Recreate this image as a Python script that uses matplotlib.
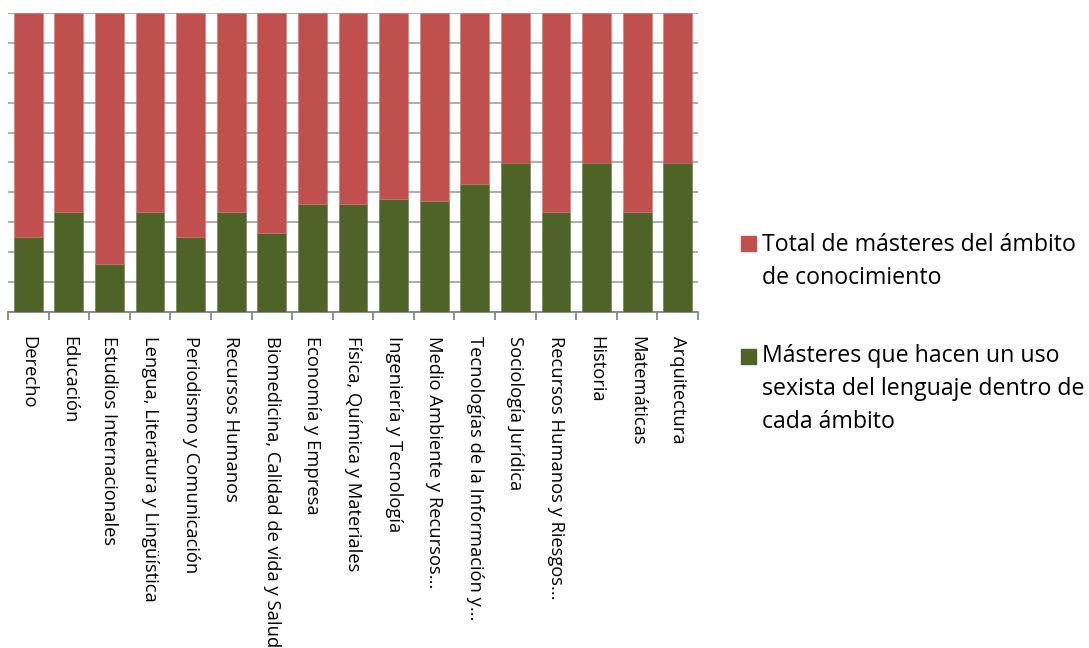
"""Másteres con uso sexista del lenguaje por ámbito (barras apiladas al 100%)."""

import matplotlib
matplotlib.use('Agg')
import matplotlib.pyplot as plt
from matplotlib.patches import Rectangle
from matplotlib.ticker import MultipleLocator
import numpy as np

plt.rcParams['font.family'] = ['Open Sans', 'DejaVu Sans']

categories = [
    'Derecho', 'Educación', 'Estudios Internacionales',
    'Lengua, Literatura y Lingüística', 'Periodismo y Comunicación',
    'Recursos Humanos', 'Biomedicina, Calidad de vida y Salud',
    'Economía y Empresa', 'Física, Química y Materiales',
    'Ingeniería y Tecnología', 'Medio Ambiente y Recursos...',
    'Tecnologías de la Información y...', 'Sociología Jurídica',
    'Recursos Humanos y Riesgos...', 'Historia', 'Matemáticas',
    'Arquitectura',
]
# share of masters with sexist language (green), rest of the total (red)
sexist_share = [0.25, 0.333, 0.16, 0.333, 0.25, 0.333, 0.265, 0.36, 0.36,
                0.377, 0.372, 0.427, 0.5, 0.333, 0.5, 0.333, 0.5]
total_share = [1 - v for v in sexist_share]

legend_labels = ['Total de másteres del ámbito\nde conocimiento',
                 'Másteres que hacen un uso\nsexista del lenguaje dentro de\ncada ámbito']

RED = '#C0504D'
GREEN = '#4F6228'
GRID = '#A6A6A6'
AXIS = '#868686'

fig = plt.figure(figsize=(10.89, 6.48), dpi=100)
W, H = 1089, 648
ax = fig.add_axes([8 / W, 1 - 312 / H, 690 / W, 299 / H])

x = np.arange(len(categories))
ax.bar(x, sexist_share, width=0.71, color=GREEN, edgecolor='#6B7A4F',
       linewidth=0.4, zorder=3)
ax.bar(x, total_share, bottom=sexist_share, width=0.71, color=RED,
       edgecolor='#D07A77', linewidth=0.4, zorder=3)

ax.set_xlim(-0.5, len(categories) - 0.5)
ax.set_ylim(0, 1)
ax.yaxis.set_major_locator(MultipleLocator(0.1))
ax.yaxis.grid(True, color=GRID, linewidth=1.3, zorder=0)
ax.tick_params(axis='y', left=False, labelleft=False)

for side in ('left', 'right', 'top'):
    ax.spines[side].set_visible(False)
ax.spines['bottom'].set_color(AXIS)
ax.spines['bottom'].set_linewidth(1.3)

ax.set_xticks(x)
ax.set_xticklabels(categories, rotation=-90, fontsize=13.2,
                   va='top', ha='center')
ax.tick_params(axis='x', which='major', length=0, pad=17)
ax.set_xticks(np.arange(len(categories) + 1) - 0.5, minor=True)
ax.tick_params(axis='x', which='minor', length=6, width=1.3, color=AXIS)

# legend drawn by hand so the markers line up with the first text line
legend_colors = [RED, GREEN]
legend_squares = [236, 349]
legend_tops = [233, 344]
for color, label, sq, top in zip(legend_colors, legend_labels,
                                 legend_squares, legend_tops):
    fig.patches.append(Rectangle((741 / W, 1 - (sq + 15) / H), 15 / W, 15 / H,
                                 transform=fig.transFigure, color=color))
    fig.text(762 / W, 1 - top / H, label, fontsize=16.7, va='top', ha='left',
             linespacing=1.5, color='black')

fig.savefig('out.png', dpi=100)
